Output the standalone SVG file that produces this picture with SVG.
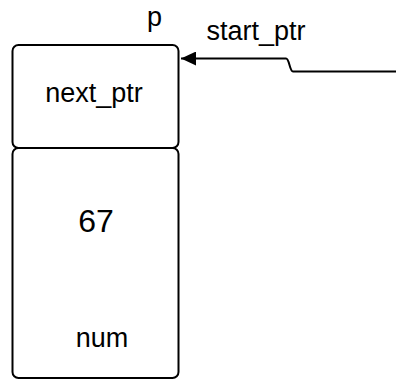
<svg xmlns="http://www.w3.org/2000/svg" width="396" height="380" viewBox="0 0 396 380">
  <style>
    .box { fill: #ffffff; stroke: #000000; stroke-width: 2; }
    .lbl { font-family: "Liberation Sans", Arial, sans-serif; fill: #000000; }
    .wire { fill: none; stroke: #000000; stroke-width: 2; }
  </style>
  <defs>
    <marker id="head" markerUnits="userSpaceOnUse" markerWidth="16" markerHeight="14" refX="15" refY="7" orient="auto">
      <path d="M0,0 L15,7 L0,14 Z" fill="#000000"/>
    </marker>
  </defs>
  <rect width="396" height="380" fill="#ffffff"/>

  <g id="node-p">
    <rect class="box" x="12.5" y="148" width="166" height="230" rx="6"/>
    <rect class="box" x="12.5" y="45" width="166" height="103" rx="6"/>
    <text class="lbl" x="154.5" y="26" font-size="27" text-anchor="middle">p</text>
    <text class="lbl" x="94" y="102" font-size="27" text-anchor="middle">next_ptr</text>
    <text class="lbl" x="96" y="232" font-size="32" text-anchor="middle">67</text>
    <text class="lbl" x="102" y="347" font-size="27" text-anchor="middle">num</text>
  </g>

  <g id="connectors">
    <path class="wire" d="M396,71.5 H293 C289.5,71.5 289.5,58.5 286,58.5 H181" marker-end="url(#head)"/>
    <text class="lbl" x="206.5" y="40" font-size="27">start_ptr</text>
  </g>
</svg>
